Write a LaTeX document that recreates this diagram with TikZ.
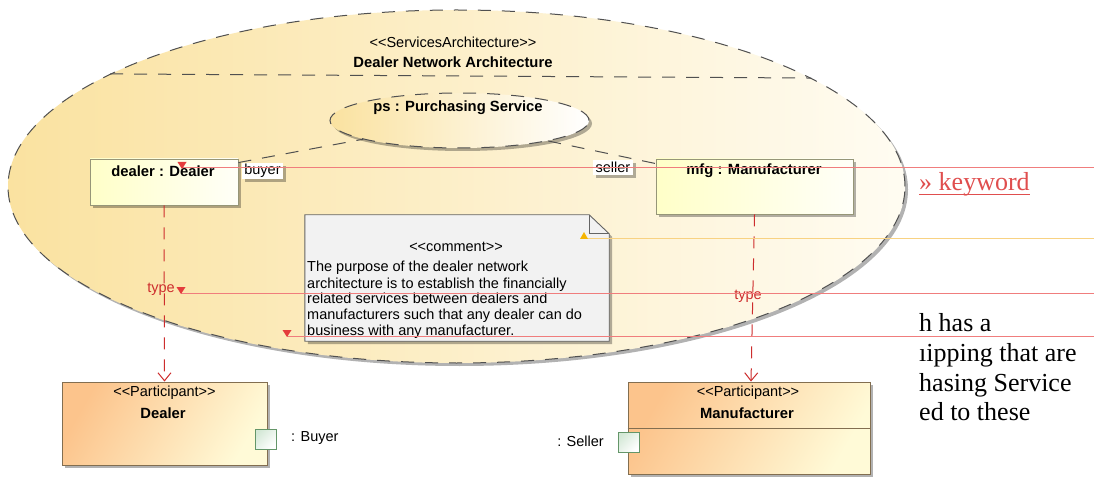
\documentclass[tikz,border=0pt]{standalone}
\usepackage{fontspec}
\setmainfont{Liberation Sans}
\newfontfamily\serifx{Liberation Serif}
\usetikzlibrary{shapes.geometric,shadows,arrows.meta,calc}
\definecolor{ellL}{RGB}{250,226,160}
\definecolor{ellR}{RGB}{255,252,242}
\definecolor{edgegray}{RGB}{80,80,80}
\definecolor{boxborder}{RGB}{150,150,120}
\definecolor{partL}{RGB}{255,255,200}
\definecolor{partR}{RGB}{255,255,248}
\definecolor{orgL}{RGB}{252,196,140}
\definecolor{orgR}{RGB}{255,250,215}
\definecolor{orgborder}{RGB}{130,110,80}
\definecolor{portfill}{RGB}{212,232,214}
\definecolor{portborder}{RGB}{100,150,105}
\definecolor{notefill}{RGB}{242,242,242}
\definecolor{noteborder}{RGB}{100,100,100}
\definecolor{typered}{RGB}{205,45,45}
\definecolor{guidered}{RGB}{240,125,125}
\definecolor{guideorange}{RGB}{248,210,130}
\definecolor{markred}{RGB}{228,60,60}
\definecolor{markorange}{RGB}{245,180,0}
\definecolor{kwred}{RGB}{224,78,78}
\newcommand\dlq{<\kern0pt<}
\newcommand\drq{>\kern0pt>}
\tikzset{
  sans/.style={font=\fontsize{14.5pt}{16pt}\selectfont, inner sep=0pt},
  bsans/.style={font=\fontsize{14.8pt}{16pt}\selectfont\bfseries, inner sep=0pt},
  serif/.style={font=\serifx\fontsize{26pt}{30pt}\selectfont, inner sep=0pt},
  shadowed/.style={drop shadow={shadow xshift=3pt, shadow yshift=-3pt, opacity=0.3, fill=black}},
  dashedge/.style={draw=edgegray, line width=1pt, dash pattern=on 13pt off 11pt},
  partbox/.style={rectangle, draw=boxborder, line width=0.9pt, left color=partL, right color=partR, shadowed, inner sep=0pt},
  participant/.style={rectangle, draw=orgborder, line width=0.9pt, left color=orgL, right color=orgR, shading angle=60, shadowed, inner sep=0pt},
  rolelbl/.style={rectangle, fill=white, shadowed, inner sep=0pt, font=\fontsize{14.5pt}{16pt}\selectfont},
  portbox/.style={rectangle, draw=portborder, line width=0.9pt, left color=portfill, right color=white, shading angle=45, minimum width=21pt, minimum height=20pt, inner sep=0pt},
  typearrow/.style={draw=typered, line width=1pt, dash pattern=on 12pt off 10pt, -{Straight Barb[length=8pt,width=13pt]}},
  typelbl/.style={sans, text=typered},
  guide/.style={draw=guidered, line width=1pt},
  guideo/.style={draw=guideorange, line width=1pt},
}
\begin{document}
\begin{tikzpicture}[x=1pt,y=-1pt]
\useasboundingbox (0,0) rectangle (1094,486);
\fill[white] (0,0) rectangle (1094,486);

% services architecture ellipse
\node[ellipse, dashedge, minimum width=897pt, minimum height=353pt, inner sep=0pt,
      left color=ellL, right color=ellR, shadowed] (sa) at (456.5,186.5) {};
\node[sans] (st) at (453,42) {\dlq ServicesArchitecture\drq};
\node[bsans] (sat) at (453,62) {Dealer Network Architecture};
\draw[dashedge] (sa.162.6) -- (sa.17.4);

% purchasing service collaboration use
\node[ellipse, dashedge, minimum width=259pt, minimum height=55pt, inner sep=0pt,
      left color=ellL, right color=white, shadowed] (ps) at (459.5,120.5) {};
\node[bsans] (pst) at (458,108) {ps : Purchasing Service};

% parts
\node[partbox, minimum width=148pt, minimum height=46pt] (dpart) at (164,182) {};
\node[bsans] (dpartt) at (163,171) {dealer : Dealer};
\node[partbox, minimum width=197pt, minimum height=55pt] (mpart) at (754.5,186.5) {};
\node[bsans] (mpartt) at (754,171) {mfg : Manufacturer};

% role bindings
\draw[dashedge] ($(dpart.north east)+(0,4)$) -- (ps.191);
\draw[dashedge] (ps.347) -- ($(mpart.north west)+(0,5)$);
\node[rolelbl, minimum width=41pt, minimum height=16pt] (buyer) at (262.5,171) {buyer};
\node[rolelbl, minimum width=40pt, minimum height=15pt] (seller) at (613,167.5) {seller};

% comment note
\node[rectangle, inner sep=0pt, minimum width=304pt, minimum height=126pt] (note) at (457,278) {};
\draw[draw=noteborder, line width=0.9pt, fill=notefill, shadowed]
  (note.north west) -- ([xshift=-20pt]note.north east) -- ([yshift=-19pt]note.north east)
  -- (note.south east) -- (note.south west) -- cycle;
\draw[draw=noteborder, line width=0.9pt]
  ([xshift=-20pt]note.north east) -- ([xshift=-20pt,yshift=-19pt]note.north east) -- ([yshift=-19pt]note.north east);
\node[sans] (nst) at (456,247) {\dlq comment\drq};
\node[sans, anchor=base west] (n1) at (307,272) {The purpose of the dealer network};
\node[sans, anchor=base west] (n2) at (307,288) {architecture is to establish the financially};
\node[sans, anchor=base west] (n3) at (307,303.8) {related services between dealers and};
\node[sans, anchor=base west] (n4) at (307,319.6) {manufacturers such that any dealer can do};
\node[sans, anchor=base west] (n5) at (307,335.4) {business with any manufacturer.};

% participants
\node[participant, minimum width=205pt, minimum height=83pt] (Dealer) at (164.5,423.5) {};
\node[sans] (dst) at (164.5,393) {\dlq Participant\drq};
\node[bsans] (dname) at (163,413) {Dealer};
\node[portbox] (bport) at (265.5,439) {};
\node[sans, anchor=west] (bportl) at (291,438) {: Buyer};

\node[participant, minimum width=242pt, minimum height=92pt] (Manuf) at (749,428) {};
\draw[draw=orgborder, line width=0.9pt] ($(Manuf.north west)+(0,47)$) -- ($(Manuf.north east)+(0,47)$);
\node[sans] (mst) at (748,393) {\dlq Participant\drq};
\node[bsans] (mname) at (747,413) {Manufacturer};
\node[portbox] (sport) at (628.5,442) {};
\node[sans, anchor=east] (sportl) at (604,441) {: Seller};

% type dependencies
\draw[typearrow] (dpart.south) -- (Dealer.north);
\draw[typearrow] (mpart.south) -- ([xshift=2pt]Manuf.north);
\node[typelbl] (t1) at (161,289) {type};
\node[typelbl] (t2) at (748,296) {type};

% guide lines and markers
\draw[guide] (182,167.5) -- (1094,167.5);
\fill[markred] (177.5,162) -- (186.5,162) -- (182,169) -- cycle;
\draw[guideo] (584,238.5) -- (1094,238.5);
\fill[markorange] (580,239) -- (588,239) -- (584,232) -- cycle;
\draw[guide] (181,293.5) -- (1094,293.5);
\fill[markred] (176.5,287) -- (185.5,287) -- (181,294) -- cycle;
\draw[guide] (287,336.5) -- (1094,336.5);
\fill[markred] (282.5,330) -- (291.5,330) -- (287,337) -- cycle;

% clipped document text on the right
\node[serif, text=kwred, anchor=base west] (kw) at (919,191) {» keyword};
\draw[kwred, line width=1.6pt] ([yshift=-3.5pt]kw.base west) -- ([yshift=-3.5pt]kw.base east);
\node[serif, anchor=base west] (r1) at (919,331) {h has a};
\node[serif, anchor=base west] (r2) at (919,361) {ıipping that are};
\node[serif, anchor=base west] (r3) at (919,391) {hasing Service};
\node[serif, anchor=base west] (r4) at (919,420.5) {ed to these};
\end{tikzpicture}
\end{document}
